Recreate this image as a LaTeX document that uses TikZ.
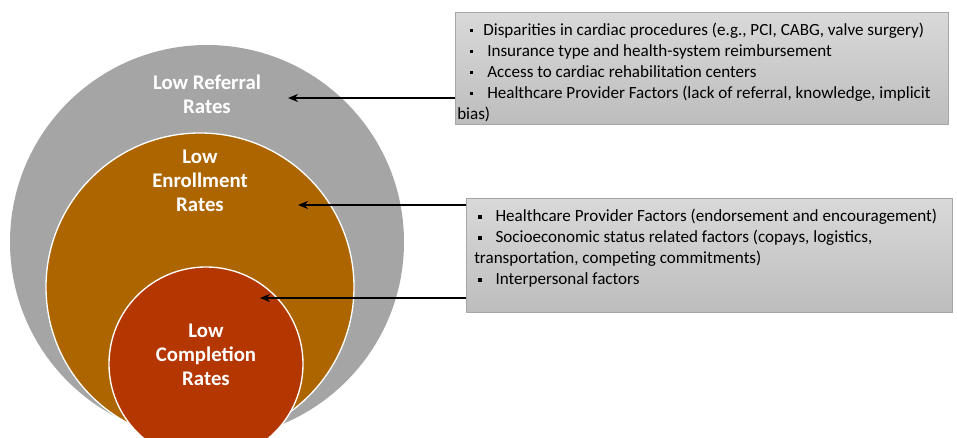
\documentclass[tikz,border=0pt]{standalone}
\usepackage{fontspec}
\setmainfont{Carlito}
\usetikzlibrary{arrows.meta, positioning}
\definecolor{referralgray}{HTML}{A5A5A5}
\definecolor{enrollorange}{HTML}{AD6500}
\definecolor{completionred}{HTML}{B43600}
\definecolor{boxtop}{HTML}{D9D9D9}
\definecolor{boxbottom}{HTML}{BDBDBD}
\definecolor{boxedge}{HTML}{A6A6A6}
\newcommand{\sqbul}[1]{\hspace*{#1}\raisebox{2.4pt}{\rule{2.6pt}{2.6pt}}\hspace*{7.5pt}}

\begin{document}
\begin{tikzpicture}[
    x=0.75pt, y=-0.75pt,
    ring/.style={circle, fill=#1, inner sep=0pt},
    title/.style={text=white, align=center, inner sep=0pt,
                  font=\fontsize{15.6}{17.8}\selectfont\bfseries},
    factbox/.style={rectangle, draw=boxedge, line width=0.4pt,
                    top color=boxtop, bottom color=boxbottom,
                    anchor=north west, inner sep=0pt},
    facts/.style={anchor=north west, inner sep=0pt, align=left,
                  font=\fontsize{12.8}{15.75}\selectfont},
    arrow/.style={-{Stealth[length=7.5pt, width=6pt]}, line width=1.5pt}
]
\useasboundingbox (0,0) rectangle (957,438);
\clip (0,0) rectangle (957,438);

% nested circles
\node[ring=referralgray, minimum size=295.5pt] (referral) at (207,242) {};
\node[ring=enrollorange, draw=white, line width=1pt, minimum size=231pt] (enroll) at (200,287) {};
\node[ring=completionred, draw=white, line width=1pt, minimum size=145.5pt] (completion) at (206,364) {};

\node[title] (referraltxt) at (207,94) {Low Referral\\Rates};
\node[title] (enrolltxt) at (200,181) {Low\\Enrollment\\Rates};
\node[title] (completiontxt) at (206,355) {Low\\Completion\\Rates};

% factor boxes
\node[factbox, minimum width=369.75pt, minimum height=84pt] (refbox) at (455,12) {};
\node[facts] (reffacts) at (457,22.5) {%
\sqbul{9.5pt}Disparities in cardiac procedures (e.g., PCI, CABG, valve surgery)\\
\sqbul{9.5pt}\ Insurance type and health-system reimbursement\\
\sqbul{9.5pt}\ Access to cardiac rehabilitation centers\\
\sqbul{9.5pt}\ Healthcare Provider Factors (lack of referral, knowledge, implicit\\
bias)};

\node[factbox, minimum width=364.5pt, minimum height=85.5pt] (enrollbox) at (466,198) {};
\node[facts] (enrollfacts) at (474,209) {%
\sqbul{3pt}\ Healthcare Provider Factors (endorsement and encouragement)\\
\sqbul{3pt}\ Socioeconomic status related factors (copays, logistics,\\
transportation, competing commitments)\\
\sqbul{3pt}\ Interpersonal factors};

% arrows into the circles
\coordinate (referralpt) at (288,98);
\coordinate (enrollpt) at (298,205);
\coordinate (completionpt) at (260,298);
\draw[arrow] (refbox.west |- referralpt) -- (referralpt);
\draw[arrow] (enrollbox.west |- enrollpt) -- (enrollpt);
\draw[arrow] (enrollbox.west |- completionpt) -- (completionpt);

\end{tikzpicture}
\end{document}
